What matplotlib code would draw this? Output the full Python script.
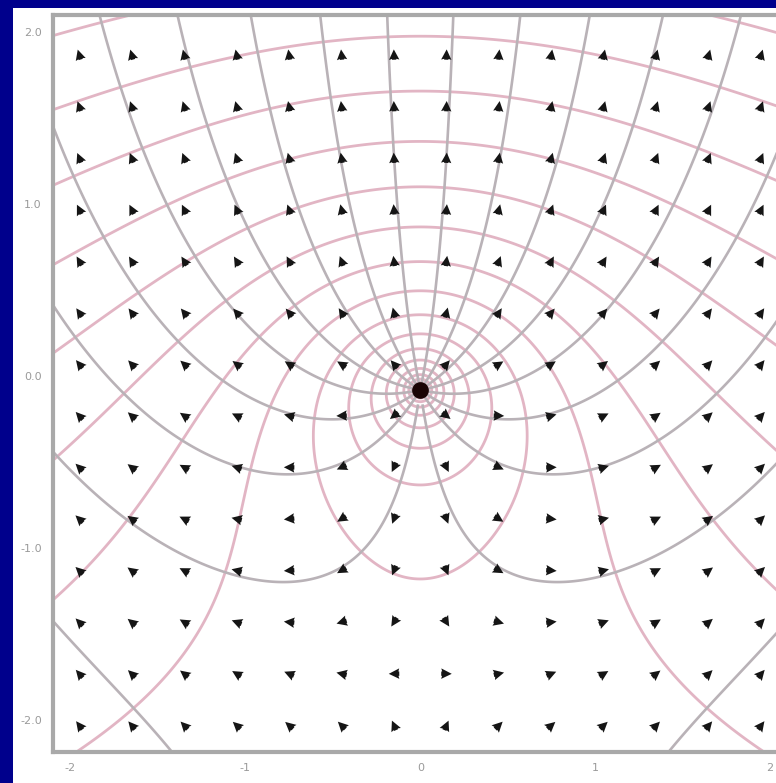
import numpy as np
import matplotlib.pyplot as plt
from matplotlib.patches import Rectangle
from matplotlib.transforms import ScaledTranslation

# point charge sitting in a uniform field: potential V = ln r + E*y,
# field lines are the contours of psi = angle - E*x
charge_x, charge_y = 0.0, 0.0
field_E = 0.6

# arrow grid
arrow_x = [-1.95, -1.65, -1.35, -1.05, -0.75, -0.45, -0.15,
           0.15, 0.45, 0.75, 1.05, 1.35, 1.65, 1.95]
arrow_y = [-1.95, -1.65, -1.35, -1.05, -0.75, -0.45, -0.15,
           0.15, 0.45, 0.75, 1.05, 1.35, 1.65, 1.95]

# equipotential levels and field line levels
v_levels = [-3.445, -3.085, -2.725, -2.365, -2.005, -1.645, -1.285, -0.925,
            -0.565, -0.205, 0.155, 0.515, 0.875, 1.235, 1.595, 1.955, 2.315]
psi_levels = [-4.2, -3.8, -3.4, -3.0, -2.6, -2.2, -1.8, -1.4, -1.0, -0.6, -0.2,
              0.2, 0.6, 1.0, 1.4, 1.8, 2.2, 2.6, 3.0, 3.4, 3.8, 4.2]

xticks = [-2, -1, 0, 1, 2]
xticklabels = ["-2", "-1", "0", "1", "2"]
yticks = [-2, -1, 0, 1, 2]
yticklabels = ["-2.0", "-1.0", "0.0", "1.0", "2.0"]

fig = plt.figure(figsize=(7.76, 7.83), dpi=100)
fig.patch.set_facecolor("#00008c")
fig.add_artist(Rectangle((13 / 776, 0), 1, 1 - 8 / 783, transform=fig.transFigure,
                         facecolor="white", edgecolor="none", zorder=-1))

ax = fig.add_axes([53 / 776, 31 / 783, 738 / 776, 737 / 783])
ax.set_facecolor("white")
ax.set_xlim(-2.10, 2.12)
ax.set_ylim(-2.105, 2.18)

# fine grid for the contours
gx = np.linspace(-2.2, 2.2, 701)
gy = np.linspace(-2.2, 2.3, 721)
GX, GY = np.meshgrid(gx, gy)
dx = GX - charge_x
dy = GY - charge_y
r = np.hypot(dx, dy)
V = np.log(r) + field_E * dy
psi = np.arctan2(-dx, dy) - field_E * dx
# hide the branch cut of the angle (straight down from the charge)
psi = np.ma.masked_where((np.abs(dx) < 0.012) & (dy < 0), psi)

ax.contour(GX, GY, V, levels=v_levels, colors="#e2b5c4", linewidths=2.0,
           linestyles="solid", zorder=1)
ax.contour(GX, GY, psi, levels=psi_levels, colors="#b9b2b7", linewidths=1.9,
           linestyles="solid", zorder=2)

# field arrows, all drawn the same length
AX, AY = np.meshgrid(arrow_x, arrow_y)
ax_d = AX - charge_x
ay_d = AY - charge_y
r2 = ax_d ** 2 + ay_d ** 2
U = ax_d / r2
W = ay_d / r2 + field_E
n = np.hypot(U, W)
ax.quiver(AX, AY, U / n, W / n, angles="xy", scale_units="xy", scale=1 / 0.06,
          pivot="middle", color="#151515", width=0.006, headwidth=2.4,
          headlength=2.4, headaxislength=2.2, zorder=3)

ax.plot([charge_x], [charge_y], "o", color="#1a0505", ms=11, zorder=4)

ax.set_xticks(xticks)
ax.set_xticklabels(xticklabels)
ax.set_yticks(yticks)
ax.set_yticklabels(yticklabels)
ax.tick_params(length=0, colors="#9a9a9a", labelsize=8, pad=8)
shift = ScaledTranslation(0, 14 / 100, fig.dpi_scale_trans)
for lab in ax.get_yticklabels():
    lab.set_transform(lab.get_transform() + shift)
for s in ax.spines.values():
    s.set_color("#a9a9a9")
    s.set_linewidth(3)

fig.savefig("out.png", dpi=100, facecolor=fig.get_facecolor())
